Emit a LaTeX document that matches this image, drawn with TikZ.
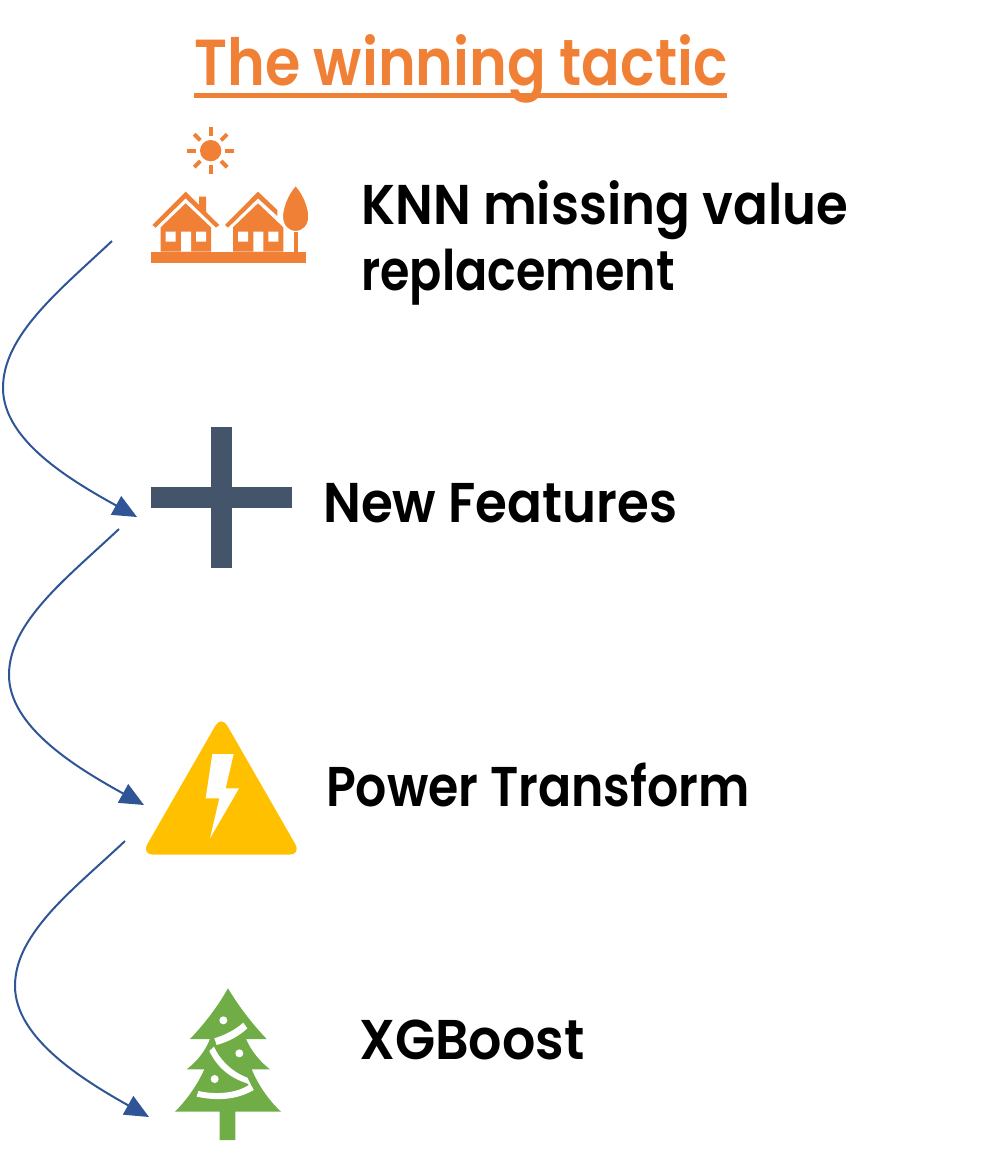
\documentclass[tikz,border=0pt]{standalone}
\usepackage{fontspec}
\setmainfont{Poppins}[UprightFont=* SemiBold,FakeStretch=0.88]
\usetikzlibrary{arrows.meta}
\definecolor{tacticorange}{HTML}{F08035}
\definecolor{plusblue}{HTML}{44546A}
\definecolor{boltgold}{HTML}{FFC000}
\definecolor{treegreen}{HTML}{70AD47}
\definecolor{flowblue}{HTML}{2F5597}
\tikzset{
  label/.style={anchor=base west,inner sep=0pt,font=\fontsize{56}{60}\selectfont\addfontfeature{FakeStretch=#1}},
  label/.default=0.88,
  flow/.style={draw=flowblue,line width=2pt,-{Triangle[length=24pt,width=21pt,fill=flowblue]}}
}
\begin{document}
\begin{tikzpicture}[x=1pt,y=-1pt]
   \useasboundingbox (0,0) rectangle (1000,1151);
   \node[label,text=tacticorange,font=\fontsize{65}{70}\selectfont] (title) at (194,85) {The winning tactic};
   \draw[tacticorange,line width=5pt] (194,95) -- (727,95);
   \node[label=0.918] (knn) at (361,224) {KNN missing value};
   \node[label=0.85] (repl) at (361,290) {replacement};
   \node[label=0.92] (feat) at (323,522) {New Features};
   \node[label=0.875] (power) at (326,806) {Power Transform};
   \node[label=0.934] (boost) at (359,1059) {XGBoost};
   % sun and houses
   \begin{scope}[shift={(130,120)},scale=1/3,tacticorange]
      \fill (242,92) circle (32);
      \foreach \a in {0,45,...,315}
         \draw[line width=4pt] (242,92)++(\a:44) -- ++(\a:26);
      \fill (62,395) rectangle (528,428);
      \fill (92,395) -- (92,322) -- (167,250) -- (243,322) -- (243,395) -- cycle;
      \fill (309,395) -- (309,322) -- (384,250) -- (460,322) -- (460,395) -- cycle;
      \fill (67,315) -- (167,215) -- (207,255) -- (207,230) -- (228,230) -- (228,276) -- (268,315) -- (258,323) -- (167,235) -- (77,323) -- cycle;
      \fill (285,315) -- (384,215) -- (442,270) -- (442,288) -- (384,235) -- (294,323) -- cycle;
      \fill[white] (107,335) rectangle (137,365) (153,335) rectangle (183,395) (198,335) rectangle (228,365);
      \fill[white] (324,335) rectangle (354,365) (370,335) rectangle (400,395) (415,335) rectangle (445,365);
      \fill[tacticorange,draw=white,line width=1.5pt] (497,195) .. controls (470,225) and (457,265) .. (457,290) .. controls (457,318) and (475,335) .. (497,335) .. controls (519,335) and (537,318) .. (537,290) .. controls (537,265) and (524,225) .. (497,195) -- cycle;
      \fill[white] (462,335) rectangle (491,395) (503,335) rectangle (528,395);
      \fill (491,335) rectangle (503,395);
   \end{scope}
   % plus
   \fill[plusblue] (211,427) rectangle (232,568);
   \fill[plusblue] (151,487) rectangle (292,508);
   % warning triangle
   \begin{scope}[shift={(130,710)},scale=1/3]
      \fill[boltgold,rounded corners=12pt] (274,16) -- (514,434) -- (34,434) -- cycle;
      \fill[white] (247,132) -- (311,132) -- (287,235) -- (327,235) -- (240,385) -- (268,265) -- (227,265) -- cycle;
   \end{scope}
   % tree
   \begin{scope}[shift={(160,975)},scale=1/3]
      \fill[treegreen] (204,40) .. controls (240,100) and (280,150) .. (320,192) -- (258,192) .. controls (275,230) and (300,260) .. (330,283) -- (275,283) .. controls (295,330) and (325,375) .. (363,410) -- (226,410) -- (226,495) -- (179,495) -- (179,410) -- (45,410) .. controls (80,375) and (112,330) .. (133,283) -- (80,283) .. controls (110,260) and (135,230) .. (150,192) -- (90,192) .. controls (130,150) and (170,100) .. (204,40) -- cycle;
      \fill[white] (190,136) circle (12) (238,235) circle (12) (164,312) circle (12);
      \fill[white] (163,190) .. controls (195,180) and (225,165) .. (250,143) -- (262,160) .. controls (235,185) and (205,200) .. (170,210) -- cycle;
      \fill[white] (162,215) .. controls (180,255) and (215,290) .. (262,308) -- (281,345) -- (262,325) .. controls (210,310) and (170,275) .. (148,228) -- cycle;
      \fill[white] (115,348) .. controls (170,360) and (230,355) .. (270,328) -- (281,345) .. controls (230,375) and (170,378) .. (110,365) -- cycle;
   \end{scope}
   \coordinate (s1) at (112,241);
   \coordinate (e1) at (137,517);
   \coordinate (s2) at (119,529);
   \coordinate (e2) at (144,805);
   \coordinate (s3) at (125,841);
   \coordinate (e3) at (149,1117);
   \path[flow] (s1) .. controls (60,290) and (3,335) .. (3,388) .. controls (3,440) and (70,480) .. (e1);
   \path[flow] (s2) .. controls (67,578) and (9,622) .. (9,675) .. controls (9,727) and (77,768) .. (e2);
   \path[flow] (s3) .. controls (73,890) and (15,933) .. (15,986) .. controls (15,1038) and (83,1080) .. (e3);
\end{tikzpicture}
\end{document}
